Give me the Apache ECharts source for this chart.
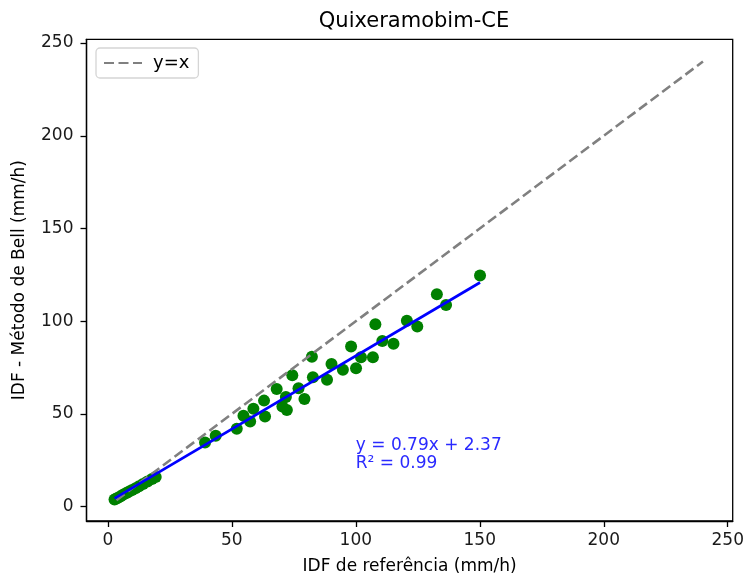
<!DOCTYPE html>
<html>
<head>
<meta charset="utf-8">
<script src="https://cdn.jsdelivr.net/npm/echarts@6/dist/echarts.min.js"></script>
<style>
  html, body { margin: 0; padding: 0; background: #fff; }
  #chart { width: 745px; height: 575px; }
</style>
</head>
<body>
<div id="chart"></div>
<script>
// reference IDF (x) vs Bell method IDF (y), mm/h
const refIdf = [
  2.7, 3.5, 4.3, 5.2, 6.3, 7.5, 8.6, 9.8, 11.2, 12.6, 14.2, 16.0, 17.8, 19.3,
  39.2, 43.5, 52.0, 57.4, 63.4, 54.7, 58.7, 63.0, 72.2, 70.4, 71.8, 79.3,
  68.1, 76.9, 88.4, 82.7, 74.4, 100.1, 94.8, 90.2, 82.3, 106.9, 102.1, 98.1,
  115.2, 110.7, 107.9, 124.8, 120.6, 136.4, 132.7, 150.1
];
const bellIdf = [
  3.9, 4.4, 5.0, 5.6, 6.6, 7.4, 8.2, 9.0, 10.0, 11.0, 12.3, 13.6, 14.9, 16.0,
  34.6, 38.2, 42.0, 45.9, 48.6, 49.1, 52.8, 57.2, 52.2, 54.0, 59.2, 58.1,
  63.5, 63.9, 68.4, 69.8, 70.9, 74.7, 73.8, 77.0, 80.8, 80.6, 80.6, 86.4,
  87.8, 89.4, 98.4, 97.1, 100.2, 108.8, 114.6, 124.7
];
// fitted line y = 0.79x + 2.37, ends
const fitX = [2.7, 150.1];
const fitY = [4.5, 120.9];
// identity reference line
const idX = [3.5, 240];
const idY = [3.5, 240];
const tickValues = [0, 50, 100, 150, 200, 250];
const fitText = 'y = 0.79x + 2.37\nR² = 0.99';

const font = 'DejaVu Sans';
const chart = echarts.init(document.getElementById('chart'));

function axis(name, min, gap, labelMargin) {
  return {
    type: 'value',
    min: min,
    max: 252,
    name: name,
    nameLocation: 'middle',
    nameGap: gap,
    nameTextStyle: { fontFamily: font, fontSize: 17, color: '#000' },
    axisLine: { show: true, onZero: false, lineStyle: { color: '#000', width: 1.3 } },
    axisTick: { show: true, length: 6, customValues: tickValues, lineStyle: { color: '#000', width: 1.3 } },
    axisLabel: { customValues: tickValues, margin: labelMargin, fontFamily: font, fontSize: 17, color: '#1a1a1a' },
    splitLine: { show: false }
  };
}

const option = {
  animation: false,
  backgroundColor: '#fff',
  title: {
    text: 'Quixeramobim-CE',
    left: 409,
    textAlign: 'center',
    top: 6,
    textStyle: { fontFamily: font, fontSize: 21, fontWeight: 'normal', color: '#000' }
  },
  legend: {
    data: ['y=x'],
    left: 96,
    top: 48,
    padding: [6, 9, 6, 7],
    itemWidth: 38,
    itemHeight: 14,
    itemGap: 8,
    borderColor: '#d5d5d5',
    borderWidth: 1.3,
    borderRadius: 4,
    backgroundColor: 'rgba(255,255,255,0.8)',
    itemStyle: { opacity: 0 },
    textStyle: { fontFamily: font, fontSize: 18, color: '#000', padding: [0, 0, 0, 6] }
  },
  grid: {
    left: 86.5, right: 12.3, top: 39.3, bottom: 54,
    outerBoundsMode: 'none',
    show: true, borderColor: '#000', borderWidth: 1.3
  },
  xAxis: axis('IDF de referência (mm/h)', -8.6, 37, 11),
  yAxis: axis('IDF - Método de Bell (mm/h)', -7.7, 58, 13),
  series: [
    {
      name: 'dados',
      type: 'scatter',
      symbolSize: 12,
      itemStyle: { color: '#008000', opacity: 1 },
      data: refIdf.map((x, i) => [x, bellIdf[i]]),
      z: 2,
      markPoint: {
        symbol: 'circle',
        symbolSize: 0,
        data: [{ coord: [100, 20] }],
        label: {
          show: true,
          formatter: fitText,
          position: [0, 0],
          align: 'left',
          verticalAlign: 'bottom',
          offset: [0, 3],
          fontFamily: font,
          fontSize: 17,
          lineHeight: 18,
          color: '#2a2aff'
        }
      }
    },
    {
      name: 'y=x',
      type: 'line',
      symbol: 'none',
      data: idX.map((x, i) => [x, idY[i]]),
      lineStyle: { color: '#808080', width: 2.6, type: [10, 4.5] },
      itemStyle: { color: '#808080' },
      z: 3
    },
    {
      name: 'ajuste',
      type: 'line',
      symbol: 'none',
      data: fitX.map((x, i) => [x, fitY[i]]),
      lineStyle: { color: '#0000ff', width: 2.7 },
      z: 4
    }
  ]
};

chart.setOption(option);
</script>
</body>
</html>
